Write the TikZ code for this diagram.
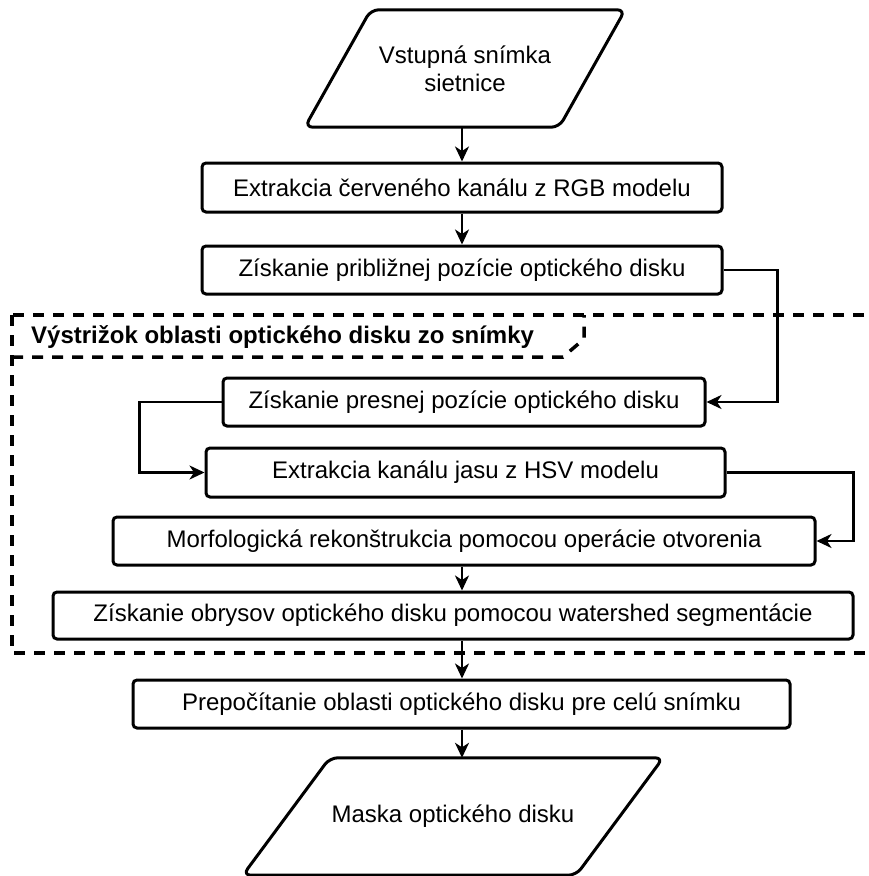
\documentclass[tikz,border=0pt]{standalone}
\usepackage{fontspec}
\setmainfont{Liberation Sans}
\usetikzlibrary{arrows.meta,calc}
\begin{document}
\begin{tikzpicture}[x=1pt,y=-1pt,
  every node/.style={font=\fontsize{24}{28}\selectfont},
  box/.style={draw, line width=3pt, rounded corners=4pt, inner sep=0pt, align=center},
  arr/.style={line width=2.2pt, -{Stealth[length=15pt,width=14pt,inset=4.5pt]}},
  frameline/.style={line width=3.5pt, dash pattern=on 11pt off 9pt},
  para/.style={draw=none, inner sep=0pt, align=center},
  paraline/.style={line width=3pt, rounded corners=8pt}]
\useasboundingbox (0,0) rectangle (869,876);
\clip (0,0) rectangle (869,876);

% frame
\draw[frameline] (12,315) rectangle (900,653);
\draw[frameline] (12,357) -- (563,357) -- (584,339) -- (584,315);
\node[anchor=west, inner sep=0pt, font=\bfseries\fontsize{24}{28}\selectfont] (lbl) at (31,337) {Výstrižok oblasti optického disku zo snímky};

% input / output
\node[para, minimum width=320pt, minimum height=117pt] (inp) at (465,68.5) {Vstupná snímka\\sietnice};
\draw[paraline] (inp.south) -- (inp.south west) -- ($(inp.north west)+(66pt,0)$) -- (inp.north east) -- ($(inp.south east)+(-66pt,0)$) -- cycle;

\node[para, minimum width=420pt, minimum height=117pt] (out) at (453,816.5) {Maska optického disku};
\draw[paraline] (out.south) -- (out.south west) -- ($(out.north west)+(87pt,0)$) -- (out.north east) -- ($(out.south east)+(-87pt,0)$) -- cycle;

% boxes
\node[box, minimum width=520pt, minimum height=49pt] (b1) at (462,187.5) {Extrakcia červeného kanálu z RGB modelu};
\node[box, minimum width=520pt, minimum height=48pt] (b2) at (462,270) {Získanie približnej pozície optického disku};
\node[box, minimum width=482pt, minimum height=48pt] (b3) at (464,402) {Získanie presnej pozície optického disku};
\node[box, minimum width=519pt, minimum height=49pt] (b4) at (465.5,472.5) {Extrakcia kanálu jasu z HSV modelu};
\node[box, minimum width=702pt, minimum height=48pt] (b5) at (464,541) {Morfologická rekonštrukcia pomocou operácie otvorenia};
\node[box, minimum width=800pt, minimum height=47pt] (b6) at (453,615.5) {Získanie obrysov optického disku pomocou watershed segmentácie};
\node[box, minimum width=657pt, minimum height=48pt] (b7) at (461.5,704) {Prepočítanie oblasti optického disku pre celú snímku};

% connectors
\draw[arr] (inp.south -| b1) -- (b1.north);
\draw[arr] (b1.south) -- (b2.north);
\draw[arr] (b2.east) -- ++(54pt,0) |- (b3.east);
\draw[arr] (b3.west) -- ++(-82pt,0) |- (b4.west);
\draw[arr] (b4.east) -- ++(127pt,0) |- (b5.east);
\draw[arr] (b5.south -| b1) -- (b6.north -| b1);
\draw[arr] (b6.south -| b1) -- (b7.north -| b1);
\draw[arr] (b7.south -| b1) -- (out.north -| b1);
\end{tikzpicture}
\end{document}
